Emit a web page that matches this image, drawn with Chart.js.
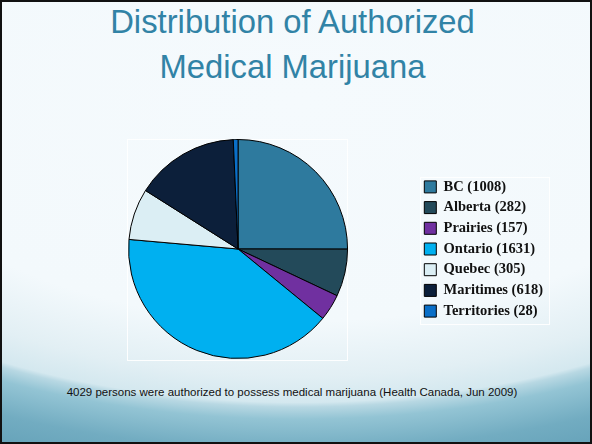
<!DOCTYPE html>
<html>
<head>
<meta charset="utf-8">
<script src="https://cdn.jsdelivr.net/npm/chart.js@4.4.1/dist/chart.umd.min.js"></script>
<style>
  html, body { margin: 0; padding: 0; }
  #slide {
    position: relative; width: 592px; height: 444px; box-sizing: border-box;
    border: 2px solid #111; overflow: hidden;
    background:
      radial-gradient(598px 305px at 296px 100px, #f5fafd 0%, #f3f9fc 72%, #e2eff4 90%, #d4e8ef 98.5%, #b8d8e3 100%, #93c4d4 104%, #72acc1 114%, #5a99b1 132%);
  }
  #title {
    position: absolute; left: -9.5px; top: -3px; width: 600px; text-align: center;
    font-family: "Liberation Sans", Arial, sans-serif; font-size: 32.8px; line-height: 45px;
    color: #3183a6; margin: 0; font-weight: normal;
  }
  #footer {
    position: absolute; left: -10px; top: 383.5px; width: 600px; text-align: center;
    font-family: "Liberation Sans", Arial, sans-serif; font-size: 11.5px; line-height: 13px; color: #111;
  }
  .frame { position: absolute; border: 1px solid rgba(255,255,255,0.9); }
  #chartWrap { position: absolute; left: 56px; top: 137px; }
</style>
</head>
<body>
<div id="slide">
  <div id="title">Distribution of Authorized<br>Medical Marijuana</div>
  <div class="frame" style="left:125px; top:137px; width:219px; height:220px;"></div>
  <div class="frame" style="left:418px; top:175px; width:128px; height:146px;"></div>
  <div id="chartWrap"><canvas id="c" width="495" height="220"></canvas></div>
  <div id="footer">4029 persons were authorized to possess medical marijuana (Health Canada, Jun 2009)</div>
</div>
<script>
const regions = ["BC (1008)", "Alberta (282)", "Prairies (157)", "Ontario (1631)", "Quebec (305)", "Maritimes (618)", "Territories (28)"];
const persons = [1008, 282, 157, 1631, 305, 618, 28];
const sliceColors = ["#2e7a9e", "#234a5a", "#7030a0", "#00b0f0", "#dbeef4", "#0c1f3a", "#0a6fc8"];

new Chart(document.getElementById('c'), {
  type: 'pie',
  data: {
    labels: regions,
    datasets: [{
      data: persons,
      backgroundColor: sliceColors,
      borderColor: '#000',
      borderWidth: 1
    }]
  },
  options: {
    responsive: false,
    animation: false,
    devicePixelRatio: 1,
    layout: { padding: 0 },
    plugins: {
      tooltip: { enabled: false },
      legend: {
        position: 'right',
        labels: {
          boxWidth: 12,
          boxHeight: 12,
          padding: 6.2,
          color: '#111',
          font: { family: "'Liberation Serif', 'Times New Roman', serif", size: 14.5, weight: 'bold' }
        }
      }
    }
  }
});
</script>
</body>
</html>
